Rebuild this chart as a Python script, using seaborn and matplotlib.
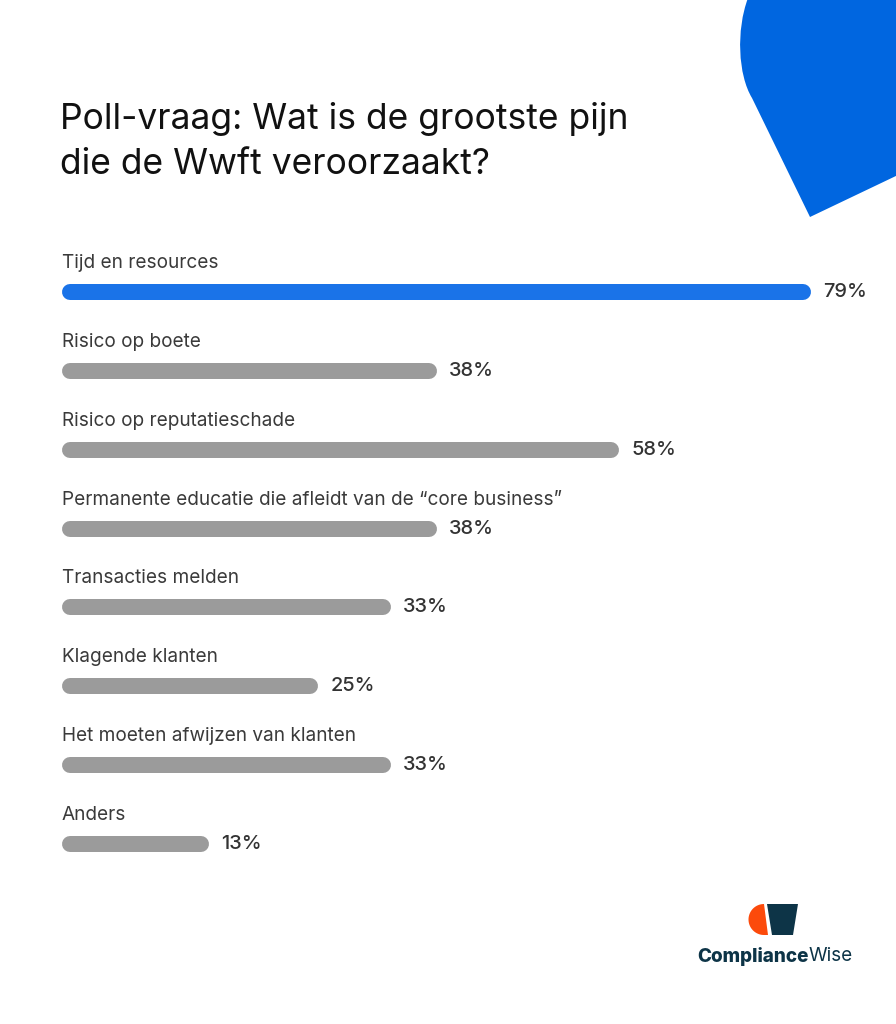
import numpy as np
import pandas as pd
import matplotlib.pyplot as plt
import seaborn as sns
from matplotlib.path import Path
from matplotlib.patches import PathPatch, Polygon
from matplotlib.transforms import Affine2D

# poll answers and share of respondents (%)
categories = [
    'Tijd en resources',
    'Risico op boete',
    'Risico op reputatieschade',
    'Permanente educatie die afleidt van de \u201ccore business\u201d',
    'Transacties melden',
    'Klagende klanten',
    'Het moeten afwijzen van klanten',
    'Anders',
]
values = [79, 38, 58, 38, 33, 25, 33, 13]
highlight = 'Tijd en resources'

title_lines = ['Poll-vraag: Wat is de grootste pijn', 'die de Wwft veroorzaakt?']

df = pd.DataFrame({'antwoord': categories, 'pct': values})
df['groep'] = np.where(df['antwoord'] == highlight, 'top', 'rest')

sns.set_theme(style='white')
plt.rcParams['font.family'] = ['Inter', 'DejaVu Sans']

W, H = 896, 1024
fig = plt.figure(figsize=(W / 100, H / 100), dpi=100)
fig.patch.set_facecolor('white')
# pixel coordinates, origin top-left
px = Affine2D().scale(1 / W, -1 / H).translate(0, 1) + fig.transFigure

ax = fig.add_axes([0, 0, 1, 1])
sns.barplot(data=df, x='pct', y='antwoord', hue='groep',
            palette={'top': '#1a73e8', 'rest': '#9b9b9b'}, saturation=1,
            dodge=False, legend=False, width=0.2, ax=ax)

# turn the bars into rounded strokes
lw = 16 * 72 / 100
start = -1.36
for p in list(ax.patches):
    w = p.get_width()
    if np.isnan(w) or w == 0:
        p.set_visible(False)
        continue
    yc = p.get_y() + p.get_height() / 2
    col = p.get_facecolor()
    p.set_visible(False)
    ax.plot([start, w], [yc, yc], color=col, lw=lw, solid_capstyle='round')

for i, (cat, v) in enumerate(zip(categories, values)):
    ax.annotate(cat, xy=(start, i), xytext=(-8 * 0.72, 29 * 0.72),
                textcoords='offset points', ha='left', va='center',
                fontsize=13.7, color='#3a3a3a')
    ax.annotate(f'{v}%', xy=(v, i), xytext=(20 * 0.72, 0),
                textcoords='offset points', ha='left', va='center',
                fontsize=14.4, fontweight='medium', color='#333333')

ax.set_xlim(-82.4 / 9.12, (W - 82.4) / 9.12)
ax.set_ylim((H - 292) / 78.86, -292 / 78.86)
ax.axis('off')

# title
fig.text(60, 129, title_lines[0], transform=px, fontsize=25.5,
         color='#111111', va='baseline', ha='left')
fig.text(60, 174, title_lines[1], transform=px, fontsize=25.5,
         color='#111111', va='baseline', ha='left')

# blue decorative shape top right
verts = [(748, -2), (736, 30), (738, 75), (752, 98), (810, 217),
         (898, 175), (898, -2), (748, -2)]
codes = [Path.MOVETO, Path.CURVE4, Path.CURVE4, Path.CURVE4, Path.LINETO,
         Path.LINETO, Path.LINETO, Path.CLOSEPOLY]
fig.patches.append(PathPatch(Path(verts, codes), transform=px,
                             facecolor='#0066e0', edgecolor='none'))

# logo
t = np.linspace(np.pi / 2, 3 * np.pi / 2, 40)
arc = np.column_stack([764 + 15.5 * np.cos(t), 919.5 - 15.5 * np.sin(t)])
orange = np.vstack([arc, [[768, 935], [764, 904]]])
fig.patches.append(Polygon(orange, closed=True, transform=px,
                           facecolor='#fc4a0b', edgecolor='none'))
fig.patches.append(Polygon([(767, 904), (798, 904), (793, 935), (772, 935)],
                           closed=True, transform=px,
                           facecolor='#0d3447', edgecolor='none'))
fig.text(809, 956, 'Compliance', transform=px, fontsize=13.6,
         fontweight='heavy', color='#0d3447', ha='right', va='center')
fig.text(809, 956, 'Wise', transform=px, fontsize=13.6,
         color='#0d3447', ha='left', va='center')

fig.savefig('out.png', dpi=100, facecolor='white')
